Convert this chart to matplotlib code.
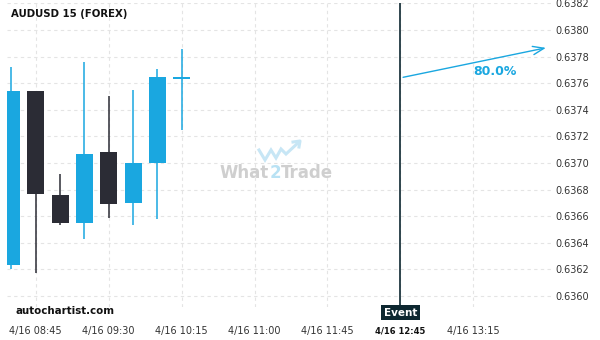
import matplotlib
matplotlib.use("Agg")
import matplotlib.pyplot as plt
from matplotlib.patches import Rectangle

# ---- data ----
times = ["08:30", "08:45", "09:00", "09:15", "09:30", "09:45", "10:00", "10:15"]
opens = [0.63623, 0.63754, 0.63676, 0.63655, 0.63708, 0.63670, 0.63700, 0.63763]
highs = [0.63772, 0.63754, 0.63692, 0.63776, 0.63750, 0.63755, 0.63771, 0.63786]
lows = [0.63620, 0.63617, 0.63653, 0.63643, 0.63659, 0.63653, 0.63658, 0.63725]
closes = [0.63754, 0.63677, 0.63655, 0.63707, 0.63669, 0.63700, 0.63765, 0.63765]

tick_idx = [1, 4, 7, 10, 13, 16, 19]
tick_labels = ["4/16 08:45", "4/16 09:30", "4/16 10:15", "4/16 11:00",
               "4/16 11:45", "4/16 12:45", "4/16 13:15"]
event_idx = 16
event_label = "Event"
forecast_start = 0.63764
forecast_end_idx = 22.1
forecast_end = 0.63787
forecast_text = "80.0%"
y_ticks = [0.6360, 0.6362, 0.6364, 0.6366, 0.6368, 0.6370, 0.6372,
           0.6374, 0.6376, 0.6378, 0.6380, 0.6382]
title = "AUDUSD 15 (FOREX)"

BLUE = "#1aa7e0"
DARK = "#2b2c35"

fig = plt.figure(figsize=(6, 3.4), dpi=100)
ax = fig.add_axes([7/600, 1-307/340, (553-7)/600, (307-3)/340])
for s in ax.spines.values():
    s.set_visible(False)

ax.set_xlim(-0.185, 22.28)
ax.set_ylim(0.635917, 0.638203)

w = 0.7
for i, (o, h, l, c) in enumerate(zip(opens, highs, lows, closes)):
    col = BLUE if c >= o else DARK
    ax.vlines(i, l, h, color=col, linewidth=1.1, zorder=3)
    bottom = min(o, c)
    height = max(abs(c - o), 0.000012)
    ax.add_patch(Rectangle((i - w/2, bottom), w, height, facecolor=col,
                           edgecolor="none", zorder=4))

ax.set_yticks(y_ticks)
ax.set_yticklabels([f"{v:.4f}" for v in y_ticks])
ax.yaxis.tick_right()
ax.set_xticks(tick_idx)
ax.set_xticklabels(tick_labels)
ax.tick_params(axis="both", length=0, labelsize=7, labelcolor="#333333")
ax.tick_params(axis="x", pad=14)
ax.tick_params(axis="y", pad=2)
for lbl in ax.get_xticklabels():
    if lbl.get_text() == tick_labels[tick_idx.index(event_idx)]:
        lbl.set_fontweight("bold")
        lbl.set_fontsize(6)
        lbl.set_color("#111111")

ax.grid(True, color="#e4e4e4", linestyle=(0, (3, 3)), linewidth=0.8)
ax.set_axisbelow(True)

# event line
ax.axvline(event_idx, color="#0d2730", linewidth=1.2, zorder=5)
ax.text(event_idx, -0.002, event_label, transform=ax.get_xaxis_transform(),
        ha="center", va="top", color="white", fontsize=7.5, fontweight="bold",
        bbox=dict(boxstyle="square,pad=0.25", facecolor="#0d2730", edgecolor="none"),
        zorder=6, clip_on=False)

# forecast arrow
ax.annotate("", xy=(forecast_end_idx, forecast_end), xytext=(event_idx, forecast_start),
            arrowprops=dict(arrowstyle="->,head_length=0.8,head_width=0.3",
                            color=BLUE, lw=1.0), zorder=6)
ax.text(19.9, 0.63769, forecast_text, color=BLUE, fontsize=9, fontweight="bold",
        ha="center", va="center", zorder=6)

# title and branding
fig.text(11/600, 1-14/340, title, fontsize=7.3, fontweight="bold", color="#111111",
         ha="left", va="center")
fig.text(16/600, 1-311/340, "autochartist.com", fontsize=7.4, fontweight="bold",
         color="#111111", ha="left", va="center")

# watermark (pieces laid out one after another)
renderer = fig.canvas.get_renderer()
wm_y = 1-173/340
x_cur = 220/600
for part, col in [("What", "#cfcfcf"), ("2", "#b9e2f4"), ("Trade", "#cfcfcf")]:
    t = fig.text(x_cur, wm_y, part, fontsize=12, fontweight="bold", color=col,
                 ha="left", va="center", zorder=1)
    bb = t.get_window_extent(renderer=renderer)
    x_cur += bb.width / fig.bbox.width

fig.lines.append(plt.Line2D([259/600, 265/600, 271/600, 276/600, 281/600, 286/600, 299/600],
                            [1-150/340, 1-160/340, 1-150/340, 1-158/340, 1-149/340, 1-154/340, 1-142/340],
                            transform=fig.transFigure, color="#c7e6f5", linewidth=2.2,
                            solid_joinstyle="miter"))
fig.lines.append(plt.Line2D([293/600, 300/600, 299/600],
                            [1-142/340, 1-141/340, 1-147/340],
                            transform=fig.transFigure, color="#c7e6f5", linewidth=2.2))

fig.savefig("out.png", dpi=100)
